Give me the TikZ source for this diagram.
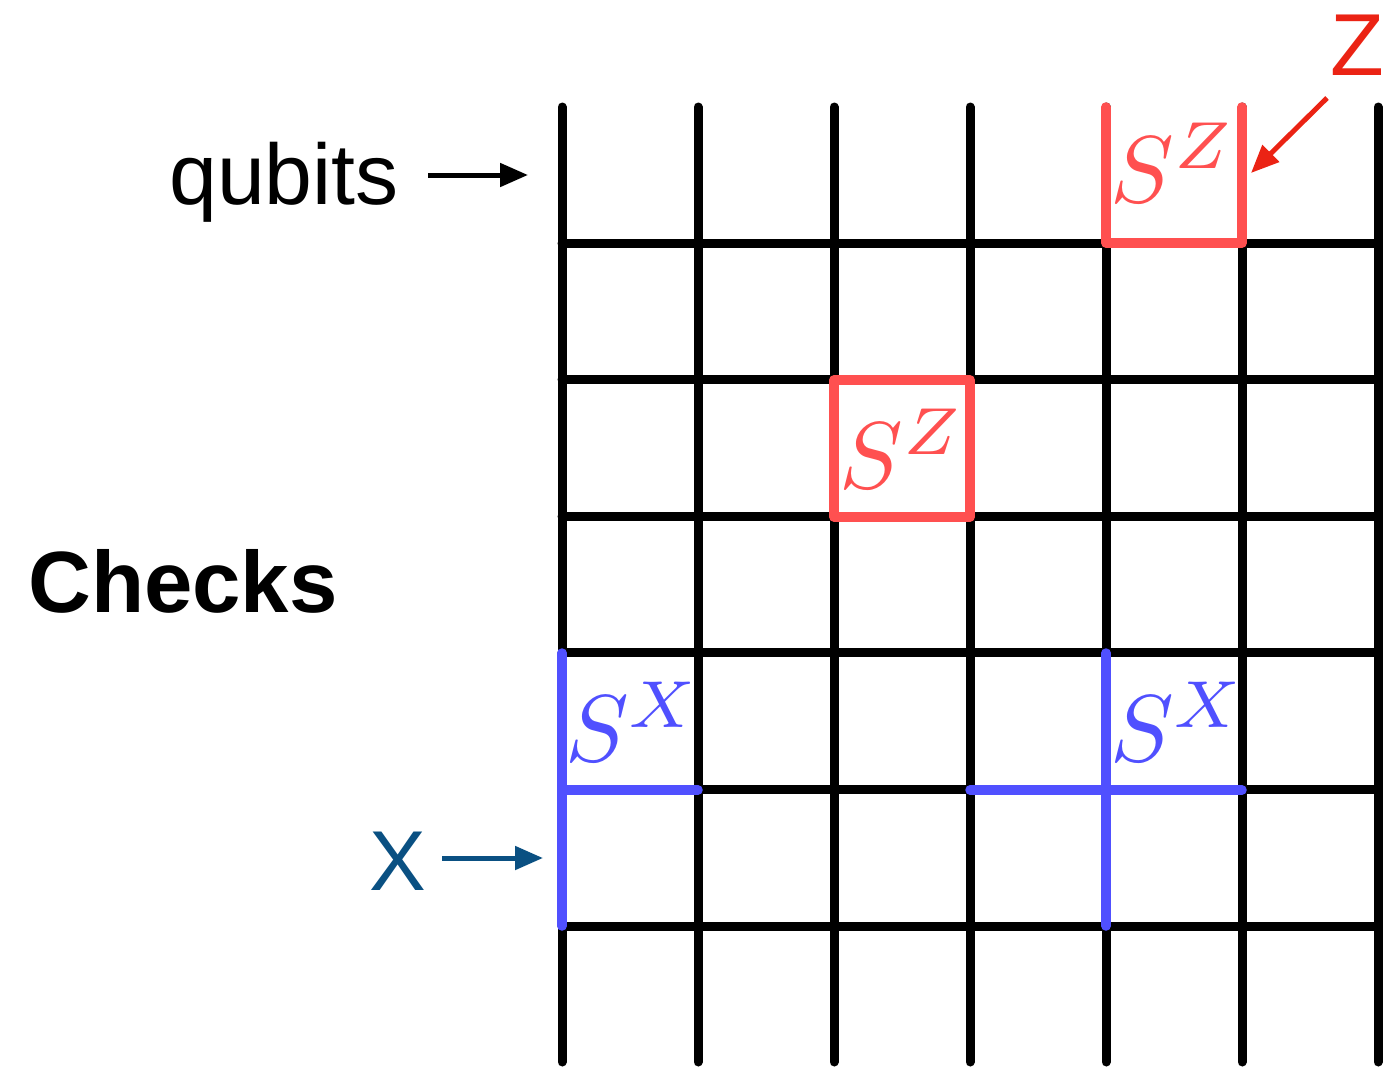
\documentclass[tikz,border=0pt]{standalone}
\usepackage{fontspec}
\newfontfamily\helv{Liberation Sans}
\usetikzlibrary{arrows.meta}
\definecolor{gridred}{RGB}{255,80,80}
\definecolor{gridblue}{RGB}{80,80,255}
\definecolor{zred}{RGB}{235,35,20}
\definecolor{xblue}{RGB}{10,80,130}
\tikzset{
  gridline/.style={line width=9pt, line cap=round, black},
  redcheck/.style={line width=9.5pt, line cap=round, line join=round, gridred},
  bluecheck/.style={line width=9.5pt, line cap=round, line join=round, gridblue},
  mathlabel/.style={inner sep=0pt, scale=9.5},
  pointer/.style={line width=5pt, -{Triangle[length=28pt,width=23pt]}},
}
\begin{document}
\begin{tikzpicture}[x=1pt,y=-1pt]
\useasboundingbox (0,0) rectangle (1393,1068);
% grid
\foreach \i in {0,...,6}{
  \draw[gridline] ({562+136*\i},107) -- ({562+136*\i},1062);
}
\foreach \j in {0,...,5}{
  \draw[gridline] (562,{243+136.6*\j}) -- (1378,{243+136.6*\j});
}
% red checks
\draw[redcheck] (1106,107) -- (1106,243) -- (1242,243) -- (1242,107);
\draw[redcheck] (834,380) rectangle (970,517);
% blue checks
\draw[bluecheck] (562,653) -- (562,926);
\draw[bluecheck] (562,790) -- (698,790);
\draw[bluecheck] (1106,653) -- (1106,926);
\draw[bluecheck] (970,790) -- (1242,790);
% math labels
\node[mathlabel, text=gridred] (sz1) at (1173,163) {$S^Z$};
\node[mathlabel, text=gridred] (sz2) at (902,449) {$S^Z$};
\node[mathlabel, text=gridblue] (sx1) at (633,722) {$S^X$};
\node[mathlabel, text=gridblue] (sx2) at (1178,722) {$S^X$};
% text labels
\node[inner sep=0pt, anchor=base] (qubits) at (284,204) {\helv\fontsize{86}{86}\selectfont qubits};
\node[inner sep=0pt, anchor=base] (checks) at (183,612) {\helv\bfseries\fontsize{87}{87}\selectfont Checks};
\node[inner sep=0pt, anchor=base, text=xblue] (xlab) at (398,890) {\helv\fontsize{85}{85}\selectfont X};
\node[inner sep=0pt, anchor=base, text=zred] (zlab) at (1357,75) {\helv\fontsize{88}{88}\selectfont Z};
% pointers
\coordinate (qs) at (428,175);
\coordinate (qe) at (528,175);
\coordinate (xs) at (442,858);
\coordinate (xe) at (543,858);
\coordinate (zs) at (1327,98);
\coordinate (ze) at (1251,173);
\draw[pointer, black] (qs) -- (qe);
\draw[pointer, xblue] (xs) -- (xe);
\draw[pointer, zred] (zs) -- (ze);
\end{tikzpicture}
\end{document}
